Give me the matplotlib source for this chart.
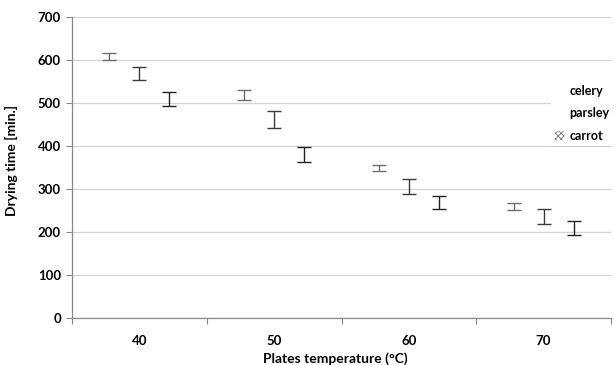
import numpy as np
import matplotlib
matplotlib.use('Agg')
import matplotlib.pyplot as plt
from matplotlib.patches import Patch

# Plate temperatures (categories) and drying times
temps = ['40', '50', '60', '70']
series = ['celery', 'parsley', 'carrot']
celery = [608, 519, 349, 259]
celery_err = [9, 11, 7, 8]
parsley = [568, 462, 306, 237]
parsley_err = [15, 20, 17, 18]
carrot = [510, 380, 269, 209]
carrot_err = [16, 17, 16, 16]

plt.rcParams['font.family'] = ['Lato', 'DejaVu Sans']
plt.rcParams['font.weight'] = 'bold'
plt.rcParams['hatch.linewidth'] = 0.6

fig = plt.figure(figsize=(6.14, 3.65), dpi=100)
ax = fig.add_axes([72 / 614, 1 - 318.3 / 365, (611 - 72) / 614, (318.3 - 17) / 365])

x = np.arange(len(temps))
width = 0.223
values = [celery, parsley, carrot]
errors = [celery_err, parsley_err, carrot_err]
ecolors = ['#6e6e6e', '#3c3c3c', '#222222']

for i in range(3):
    ax.bar(x + (i - 1) * width, values[i], width, yerr=errors[i],
           color='none', edgecolor='none',
           error_kw=dict(ecolor=ecolors[i], elinewidth=1.0, capsize=5, capthick=1.0))

ax.set_ylim(0, 700)
ax.set_yticks(range(0, 701, 100))
ax.set_xlim(-0.5, len(temps) - 0.5)

# group boundaries as major ticks, labels on minor ticks at group centres
ax.set_xticks(np.arange(-0.5, len(temps), 1.0))
ax.set_xticklabels([])
ax.set_xticks(x, minor=True)
ax.set_xticklabels(temps, minor=True)
ax.tick_params(axis='x', which='major', length=4, color='#888888')
ax.tick_params(axis='x', which='minor', length=0, pad=12, labelsize=9.5)
ax.tick_params(axis='y', length=4, color='#888888', pad=4, labelsize=9.5)

ax.grid(axis='y', color='#d4d4d4', linewidth=0.9)
ax.set_axisbelow(True)
for side in ['top', 'right']:
    ax.spines[side].set_visible(False)
for side in ['left', 'bottom']:
    ax.spines[side].set_color('#888888')
    ax.spines[side].set_linewidth(0.9)

ax.set_ylabel('Drying time [min.]', fontsize=10, fontweight='bold')
ax.yaxis.set_label_coords((18 - 72) / 539, (318.3 - 160) / 301.3)
ax.set_xlabel('Plates temperature (°C)', fontsize=10, fontweight='bold')
ax.xaxis.set_label_coords((335 - 72) / 539, -(352 - 318.3) / 301.3)

handles = [Patch(facecolor='white', edgecolor='none'),
           Patch(facecolor='white', edgecolor='none'),
           Patch(facecolor='white', edgecolor='#7a7a7a', hatch='xxxxxx', linewidth=0)]
leg = ax.legend(handles, series, loc='upper left',
                bbox_to_anchor=(551 / 614, 1 - 81 / 365), bbox_transform=fig.transFigure,
                frameon=True, fancybox=False, framealpha=1, edgecolor='none',
                borderpad=0.3, borderaxespad=0, handlelength=0.75, handleheight=0.75,
                handletextpad=0.45, labelspacing=0.85, prop=dict(size=9, weight='bold'))

fig.savefig('out.png', dpi=100)
